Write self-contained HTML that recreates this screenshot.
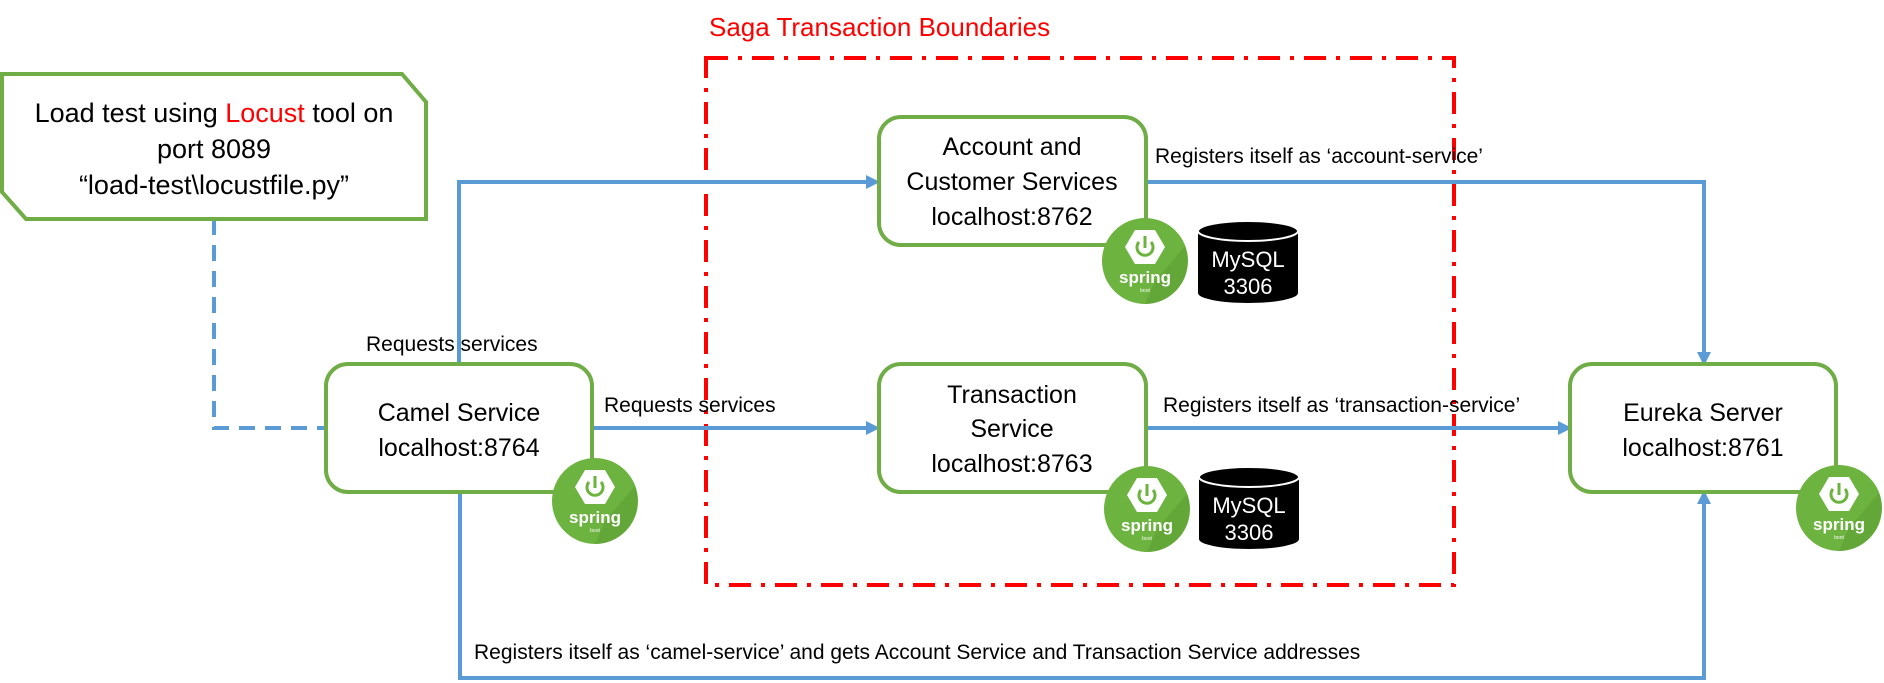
<!DOCTYPE html>
<html><head><meta charset="utf-8"><style>
html,body{margin:0;padding:0;background:#fff;}
svg{display:block;}
text{font-family:"Liberation Sans",sans-serif;}
</style></head><body>
<svg width="1884" height="683" viewBox="0 0 1884 683" xmlns="http://www.w3.org/2000/svg">
<defs>
<marker id="ar" markerWidth="14" markerHeight="14" refX="10" refY="7" orient="auto" markerUnits="userSpaceOnUse" viewBox="0 0 14 14">
<path d="M0,0 L14,7 L0,14 z" fill="#5b9bd5"/></marker>
<g id="spring">
<circle cx="0" cy="0" r="43" fill="#6db33f"/>
<path d="M0,43 A43,43 0 0 0 40,-15 L10,20 Z" fill="#5e9e35" opacity="0.6"/>
<polygon points="-10,-31 10,-31 20,-14 10,3 -10,3 -20,-14" fill="#fff"/>
<path d="M-6,-19 A8,8 0 1 0 6,-19" fill="none" stroke="#6db33f" stroke-width="3"/>
<line x1="0" y1="-25" x2="0" y2="-13" stroke="#6db33f" stroke-width="3"/>
<text x="0" y="22" text-anchor="middle" font-size="17" font-weight="bold" fill="#fff">spring</text>
<text x="0" y="31" text-anchor="middle" font-size="5" fill="#fff">boot</text>
</g>
<g id="db">
<path d="M0,10 L0,72 A50,10 0 0 0 100,72 L100,10" fill="#000"/>
<ellipse cx="50" cy="10" rx="50" ry="10" fill="#000" stroke="#fff" stroke-width="2"/>
<text x="50" y="46" text-anchor="middle" font-size="22" fill="#fff">MySQL</text>
<text x="50" y="73" text-anchor="middle" font-size="22" fill="#fff">3306</text>
</g>
</defs>

<text x="709" y="36" font-size="26" fill="#ff0000">Saga Transaction Boundaries</text>
<rect x="706" y="58" width="748" height="527" fill="none" stroke="#ff0000" stroke-width="4" stroke-dasharray="22,10,4,10"/>

<polyline points="214,219 214,428 326,428" fill="none" stroke="#5b9bd5" stroke-width="4" stroke-dasharray="16,10"/>
<polyline points="459,364 459,182 876,182" fill="none" stroke="#5b9bd5" stroke-width="4" marker-end="url(#ar)"/>
<line x1="592" y1="428" x2="876" y2="428" stroke="#5b9bd5" stroke-width="4" marker-end="url(#ar)"/>
<polyline points="1146,182 1704,182 1704,362" fill="none" stroke="#5b9bd5" stroke-width="4" marker-end="url(#ar)"/>
<line x1="1148" y1="428" x2="1568" y2="428" stroke="#5b9bd5" stroke-width="4" marker-end="url(#ar)"/>
<polyline points="460,492 460,678 1704,678 1704,494" fill="none" stroke="#5b9bd5" stroke-width="4" marker-end="url(#ar)"/>

<polygon points="2,74 402,74 426,102 426,219 26,219 2,192" fill="#fff" stroke="#70ad47" stroke-width="4"/>
<text text-anchor="middle" font-size="27" fill="#000"><tspan x="214" y="122">Load test using <tspan fill="#ff0000">Locust</tspan> tool on</tspan><tspan x="214" y="158">port 8089</tspan><tspan x="214" y="194">“load-test\locustfile.py”</tspan></text>

<rect x="326" y="364" width="266" height="128" rx="22" fill="#fff" stroke="#70ad47" stroke-width="4"/>
<text text-anchor="middle" font-size="25"><tspan x="459" y="421">Camel Service</tspan><tspan x="459" y="456">localhost:8764</tspan></text>

<rect x="879" y="117" width="267" height="128" rx="22" fill="#fff" stroke="#70ad47" stroke-width="4"/>
<text text-anchor="middle" font-size="25"><tspan x="1012" y="155">Account and</tspan><tspan x="1012" y="190">Customer Services</tspan><tspan x="1012" y="225">localhost:8762</tspan></text>

<rect x="879" y="364" width="267" height="128" rx="22" fill="#fff" stroke="#70ad47" stroke-width="4"/>
<text text-anchor="middle" font-size="25"><tspan x="1012" y="403">Transaction</tspan><tspan x="1012" y="437">Service</tspan><tspan x="1012" y="472">localhost:8763</tspan></text>

<rect x="1570" y="364" width="266" height="128" rx="22" fill="#fff" stroke="#70ad47" stroke-width="4"/>
<text text-anchor="middle" font-size="25"><tspan x="1703" y="421">Eureka Server</tspan><tspan x="1703" y="456">localhost:8761</tspan></text>

<g font-size="21" fill="#000">
<text x="366" y="351">Requests services</text>
<text x="604" y="412">Requests services</text>
<text x="1155" y="163">Registers itself as ‘account-service’</text>
<text x="1163" y="412">Registers itself as ‘transaction-service’</text>
<text x="474" y="659">Registers itself as ‘camel-service’ and gets Account Service and Transaction Service addresses</text>
</g>

<use href="#spring" x="595" y="501"/>
<use href="#spring" x="1145" y="261"/>
<use href="#spring" x="1147" y="509"/>
<use href="#spring" x="1839" y="508"/>
<use href="#db" x="1198" y="221"/>
<use href="#db" x="1199" y="467"/>
</svg>
</body></html>
